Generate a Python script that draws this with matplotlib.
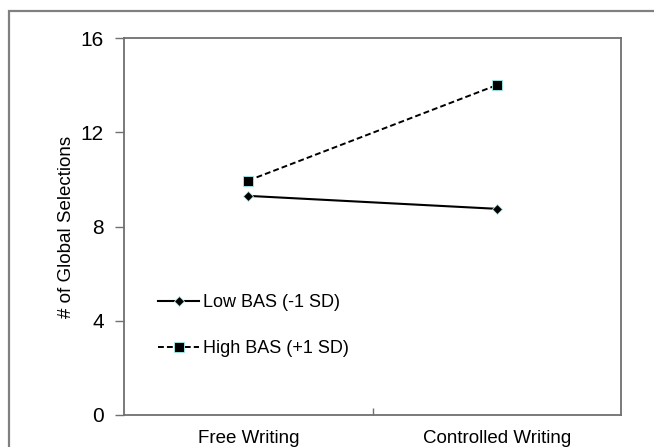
import numpy as np
import matplotlib
matplotlib.use("Agg")
import matplotlib.pyplot as plt
from matplotlib.patches import Rectangle

plt.rcParams['font.family'] = ['Liberation Sans', 'DejaVu Sans']

conditions = ['Free Writing', 'Controlled Writing']
low_bas = [9.3, 8.75]
high_bas = [9.95, 14.0]
yticks = [0, 4, 8, 12, 16]

fig = plt.figure(figsize=(6.54, 4.47), dpi=100)
ax = fig.add_axes([124/654, 1-415/447, (621-124)/654, (415-38)/447])

# outer frame around the whole figure
fig.patches.append(Rectangle((9/654, -0.1), 1.1, 1.1 - 11/447, transform=fig.transFigure,
                             fill=False, edgecolor='#808080', linewidth=1.6))

x = np.arange(len(conditions)) + 0.5
ax.plot(x, low_bas, '-', color='black', lw=1.5, marker='D', ms=5.5,
        mfc='black', mec='#9ff0f0', mew=0.6, label='Low BAS (-1 SD)')
ax.plot(x, high_bas, '--', color='black', lw=1.4, dashes=(3, 1.6), marker='s', ms=7,
        mfc='black', mec='#9ff0f0', mew=0.6, label='High BAS (+1 SD)')

ax.set_xlim(0, 2)
ax.set_ylim(0, 16)
ax.set_yticks(yticks)
ax.set_yticklabels([str(v) for v in yticks], fontsize=15)
ax.tick_params(axis='y', direction='out', length=6.5, width=1, color='#707070', pad=8)

ax.set_xticks([1])
ax.set_xticklabels([''])
ax.tick_params(axis='x', direction='in', length=5, width=1, color='#707070')
for xi, lab in zip(x, conditions):
    ax.text(xi, -0.98, lab, ha='center', va='center', fontsize=13.5)

for s in ax.spines.values():
    s.set_color('#707070')
    s.set_linewidth(1.3)

ax.set_ylabel('# of Global Selections', fontsize=13.5, labelpad=4)

ax.legend(loc='upper left', bbox_to_anchor=(0.068, 0.32), frameon=False,
          borderaxespad=0, borderpad=0,
          fontsize=13, handlelength=2.3, handletextpad=0.22, labelspacing=1.6)

fig.savefig('out.png', dpi=100)
